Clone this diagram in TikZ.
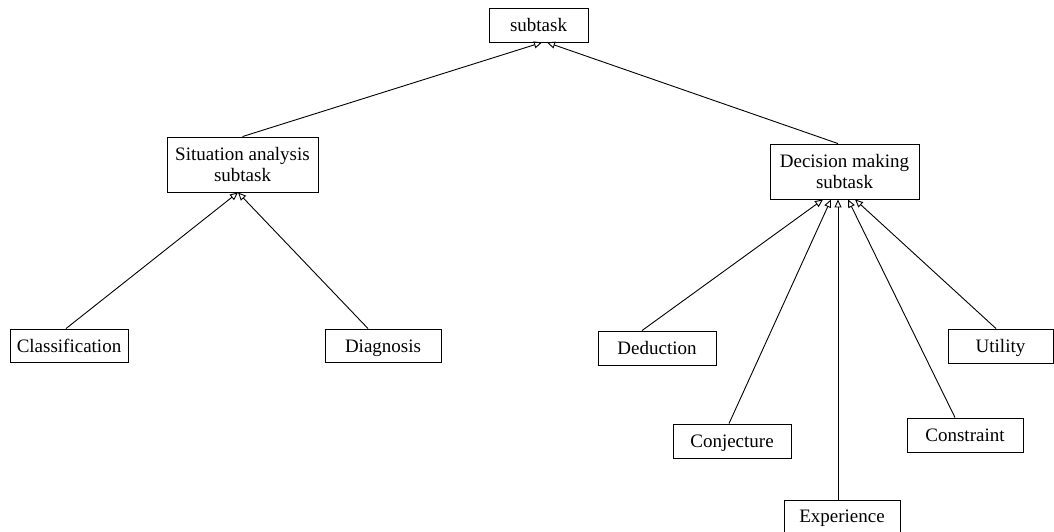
\documentclass[tikz,border=0pt]{standalone}
\usepackage{fontspec}
\setmainfont{Liberation Serif}
\usetikzlibrary{arrows.meta}
\begin{document}
\begin{tikzpicture}[x=1pt,y=-1pt,line width=0.9pt,
    task/.style={draw,rectangle,align=center,inner sep=0pt,
      font=\fontsize{19}{21}\selectfont},
    oneline/.style={task,text height=14pt,text depth=1pt},
    gen/.style={-{Triangle[open,length=8pt,width=7pt]}}]
  \useasboundingbox (0,0) rectangle (1054,531);
  \node[oneline,minimum width=99pt,minimum height=34pt] (top) at (538.5,25) {subtask};
  \node[task,minimum width=151pt,minimum height=55pt] (sit) at (242.5,164.5) {Situation analysis\\subtask};
  \node[task,minimum width=149pt,minimum height=55pt] (dec) at (844.5,171.5) {Decision making\\subtask};
  \node[oneline,minimum width=118pt,minimum height=33pt] (cls) at (69,345.5) {Classification};
  \node[oneline,minimum width=116pt,minimum height=33pt] (diag) at (383,345.5) {Diagnosis};
  \node[oneline,minimum width=118pt,minimum height=34pt] (ded) at (657,348) {Deduction};
  \node[oneline,minimum width=118pt,minimum height=34pt] (conj) at (732,441) {Conjecture};
  \node[oneline,minimum width=116pt,minimum height=32pt] (exp) at (842,516) {Experience};
  \node[oneline,minimum width=116pt,minimum height=34pt] (cons) at (965,435) {Constraint};
  \node[oneline,minimum width=105pt,minimum height=34pt] (util) at (1000.5,346) {Utility};
  \begin{scope}[gen]
    \draw (sit.north) -- ([xshift=3.5pt]top.south);
    \draw ([xshift=-6.5pt]dec.north) -- ([xshift=8.5pt]top.south);
    \draw ([xshift=-3pt]cls.north) -- ([xshift=-4.5pt]sit.south);
    \draw ([xshift=-15pt]diag.north) -- ([xshift=-4.5pt]sit.south);
    \draw ([xshift=-15pt]ded.north) -- ([xshift=-21.5pt]dec.south);
    \draw ([xshift=-3pt]conj.north) -- ([xshift=-13.5pt]dec.south);
    \draw ([xshift=-4pt]exp.north) -- ([xshift=-6.5pt]dec.south);
    \draw ([xshift=-10pt]cons.north) -- ([xshift=3.5pt]dec.south);
    \draw ([xshift=-4.5pt]util.north) -- ([xshift=10.5pt]dec.south);
  \end{scope}
\end{tikzpicture}
\end{document}
